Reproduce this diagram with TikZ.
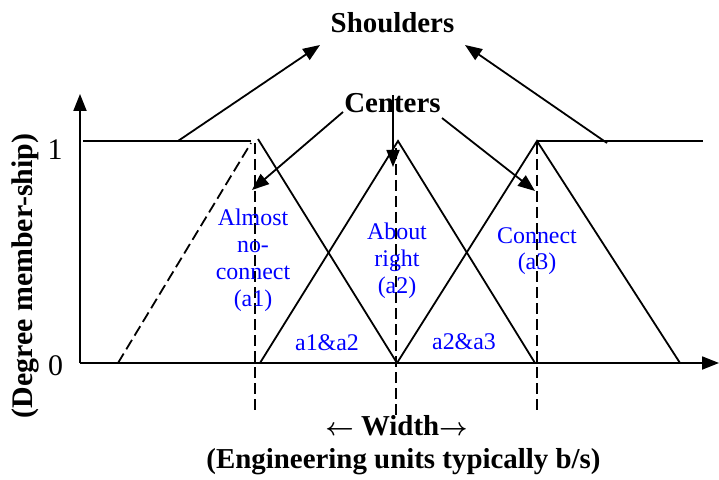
\documentclass[tikz,border=0pt]{standalone}
\usepackage{fontspec}
\setmainfont{Liberation Serif}
\usetikzlibrary{arrows.meta}
\begin{document}
\begin{tikzpicture}[x=1bp,y=-1bp,
  curve/.style={line width=1.8bp, black},
  guide/.style={curve, dash pattern=on 11bp off 5bp},
  pointer/.style={line width=1.8bp, -{Triangle[length=17bp,width=13bp]}},
  head/.style={font=\fontsize{29}{32}\selectfont\bfseries\boldmath, inner sep=0pt},
  tick/.style={font=\fontsize{30}{32}\selectfont, inner sep=0pt},
  term/.style={text=blue, font=\fontsize{24}{27}\selectfont, align=center, inner sep=0pt}]
\useasboundingbox (0,0) rectangle (719,480);

% axes
\coordinate (O) at (80,363);
\coordinate (ytop) at (80,94);
\coordinate (xend) at (719,363);
\draw[pointer] (O) -- (ytop);
\draw[pointer] (O) -- (xend);

% key points of the membership functions
\coordinate (ls0) at (83,141);   \coordinate (ls1) at (251,141);
\coordinate (d0) at (118,363);   \coordinate (d1) at (251,143);
\coordinate (p1) at (258,139);   \coordinate (b1r) at (397,363);
\coordinate (b2l) at (260,363);  \coordinate (p2) at (398,141);  \coordinate (b2r) at (535,363);
\coordinate (b3l) at (397,363);  \coordinate (p3) at (537,141);  \coordinate (b3r) at (680,363);
\coordinate (rs1) at (703,141);

% shoulders and triangles
\draw[curve] (ls0) -- (ls1);
\draw[guide] (d0) -- (d1);
\draw[curve] (p1) -- (b1r);
\draw[curve] (b2l) -- (p2) -- (b2r);
\draw[curve] (b3l) -- (p3) -- (b3r);
\draw[curve] (p3) -- (rs1);

% centre guides
\coordinate (g1t) at (255,143); \coordinate (g1b) at (255,415);
\coordinate (g2t) at (396,148); \coordinate (g2b) at (396,417);
\coordinate (g3t) at (537,143); \coordinate (g3b) at (537,415);
\draw[guide] (g1t) -- (g1b);
\draw[guide] (g2t) -- (g2b);
\draw[guide] (g3t) -- (g3b);

% tick labels
\node[tick, anchor=base] (one) at (55,160) {1};
\node[tick, anchor=base] (zero) at (55.5,375) {0};

% headings
\node[head, anchor=base] (shoulders) at (392.5,33) {Shoulders};
\node[head, anchor=base] (centers) at (392.5,113) {Centers};

% shoulder pointers
\coordinate (sa0) at (178,141); \coordinate (sa1) at (320,45);
\coordinate (sb0) at (607,143); \coordinate (sb1) at (465,45);
\draw[pointer] (sa0) -- (sa1);
\draw[pointer] (sb0) -- (sb1);

% centre pointers
\coordinate (ca0) at (343,112); \coordinate (ca1) at (252,190);
\coordinate (cb0) at (393,95);  \coordinate (cb1) at (393,167);
\coordinate (cc0) at (442,118); \coordinate (cc1) at (535,191);
\draw[pointer] (ca0) -- (ca1);
\draw[pointer] (cb0) -- (cb1);
\draw[pointer] (cc0) -- (cc1);

% linguistic terms
\node[term, anchor=north] (a1) at (253,209) {Almost\\no-\\connect\\(a1)};
\node[term, anchor=north] (a2) at (397,223) {About\\right\\(a2)};
\node[term, anchor=north] (a3) at (537,227) {Connect\\(a3)};
\node[term, anchor=base] (a12) at (327,350) {a1\&a2};
\node[term, anchor=base] (a23) at (464,349) {a2\&a3};

% axis titles
\node[head, font=\fontsize{30}{32}\selectfont\bfseries, rotate=90] (ylab) at (25,276) {(Degree member-ship)};
\node[head, anchor=base] (width) at (396.5,435) {$\leftarrow$ Width$\rightarrow$};
\node[head, anchor=base] (units) at (403.5,468) {(Engineering units typically b/s)};
\end{tikzpicture}
\end{document}
